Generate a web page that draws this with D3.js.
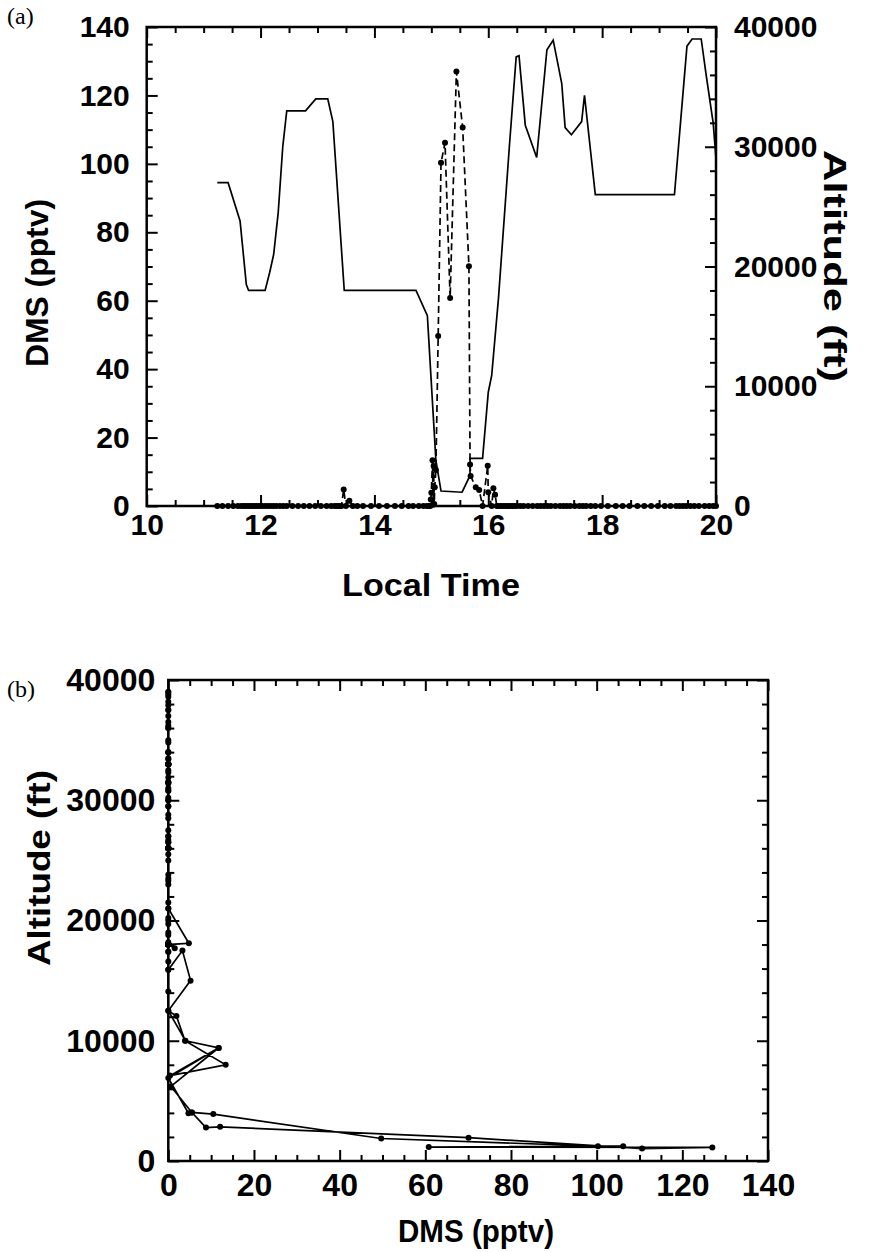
<!DOCTYPE html>
<html>
<head>
<meta charset="utf-8">
<script src="https://cdn.jsdelivr.net/npm/d3@7"></script>
<style>
  body { margin: 0; background: #fff; }
  svg { display: block; }
  .tick text { font-family: "Liberation Sans", Arial, sans-serif; font-weight: bold; fill: #000; }
  .pa .tick text { font-size: 30px; }
  .pb .tick text { font-size: 32px; }
  .tick line { stroke: #000; stroke-width: 2; }
  .title { font-family: "Liberation Sans", Arial, sans-serif; font-weight: bold; font-size: 31px; fill: #000; }
  .plabel { font-family: "Liberation Serif", "Times New Roman", serif; font-size: 24px; fill: #000; }
</style>
</head>
<body>
<div id="chart"></div>
<script>
// altitude track (local time in h, altitude in ft)
var altTime = [11.24, 11.43, 11.64, 11.75, 11.79, 12.08, 12.16, 12.23, 12.31, 12.39, 12.46, 12.79, 12.97, 13.18, 13.27, 13.47,
  14.73, 14.93, 15.08, 15.17, 15.54, 15.68, 15.68, 15.90, 16.00, 16.06, 16.18, 16.37, 16.49, 16.54, 16.65, 16.85,
  17.03, 17.14, 17.29, 17.35, 17.46, 17.64, 17.69, 17.88, 19.27, 19.49, 19.58, 19.74, 19.83, 19.95, 20.0]
var altFt = [27000, 27000, 23800, 18500, 18000, 18000, 19500, 21000, 24500, 30000, 33000, 33000, 34000, 34000, 32100, 18000,
  18000, 15900, 3800, 1250, 1150, 2550, 3975, 3975, 9500, 10900, 17400, 30000, 37500, 37600, 31800, 29100,
  38100, 38900, 35300, 31600, 31000, 32100, 34300, 26000, 26000, 38400, 39000, 39000, 35900, 32000, 29000]

// DMS samples: time (h), mixing ratio (pptv), altitude of the sample (ft)
var dmsTime = [11.24, 11.33, 11.43, 11.52, 11.60, 11.66, 11.70, 11.74, 11.78, 11.82, 11.86, 11.90, 11.94, 11.98, 12.03,
  12.08, 12.13, 12.18, 12.23, 12.28, 12.34, 12.40, 12.46, 12.56, 12.66, 12.76, 12.86, 12.96, 13.06, 13.16, 13.24,
  13.30, 13.34, 13.38, 13.42, 13.46, 13.50, 13.56, 13.62, 13.70, 13.80, 13.94, 14.08, 14.22, 14.36, 14.48, 14.60,
  14.68, 14.78, 14.86, 14.92, 14.96, 14.98, 14.99, 15.00, 15.02, 15.03, 15.04, 15.05, 15.06, 15.08, 15.12, 15.17,
  15.24, 15.33, 15.44, 15.55, 15.66, 15.68, 15.69, 15.78, 15.84, 15.90, 15.99, 16.00, 16.06, 16.09, 16.12, 16.15,
  16.18, 16.22, 16.26, 16.30, 16.34, 16.38, 16.42, 16.46, 16.50, 16.56, 16.62, 16.70, 16.78, 16.86, 16.92, 16.98,
  17.04, 17.10, 17.18, 17.26, 17.32, 17.38, 17.44, 17.52, 17.60, 17.66, 17.72, 17.80, 17.88, 17.98, 18.10, 18.24,
  18.36, 18.48, 18.62, 18.74, 18.86, 18.98, 19.10, 19.20, 19.30, 19.36, 19.42, 19.48, 19.55, 19.62, 19.70, 19.80,
  19.88, 19.95, 20.0]
var dmsPptv = [0, 0, 0, 0, 0, 0, 0, 0, 0, 0, 0, 0, 0, 0, 0,
  0, 0, 0, 0, 0, 0, 0, 0, 0, 0, 0, 0, 0, 0, 0, 0,
  0, 0, 0, 0, 4.8, 0, 1.5, 0, 0, 0, 0, 0, 0, 0, 0, 0,
  0, 0, 0, 0, 0, 0, 1.9, 3.9, 13.4, 0.4, 11.7, 0.6, 5.5, 10.5, 49.7, 100.3,
  106.2, 60.8, 127.0, 110.6, 70.1, 12.1, 8.8, 5.5, 4.7, 0, 11.8, 4.0, 0, 5.2, 3.3, 0,
  0, 0, 0, 0, 0, 0, 0, 0, 0, 0, 0, 0, 0, 0, 0, 0,
  0, 0, 0, 0, 0, 0, 0, 0, 0, 0, 0, 0, 0, 0, 0, 0,
  0, 0, 0, 0, 0, 0, 0, 0, 0, 0, 0, 0, 0, 0, 0, 0,
  0, 0, 0]
var dmsAlt = [27000, 27000, 26500, 25000, 23300, 21500, 20200, 19000, 18200, 18000, 18000, 18000, 18000, 18000, 18000,
  18000, 18800, 19700, 21000, 23000, 25500, 30200, 33000, 33000, 33000, 33000, 33400, 34000, 34000, 34000, 33000,
  29500, 26700, 23800, 21000, 18100, 18000, 17700, 18000, 18000, 18000, 18000, 18000, 18000, 18000, 18000, 18000,
  18000, 17400, 16600, 15900, 14100, 12500, 12050, 10000, 8000, 7100, 9400, 6200, 4040, 3900, 1870, 1230,
  1230, 1160, 1130, 1030, 1940, 2840, 2780, 4040, 3970, 6900, 9400, 10000, 12500, 15000, 17500, 15900,
  17400, 20000, 23500, 26500, 28500, 30800, 33500, 36000, 37500, 36500, 33000, 30800, 30000, 29500, 32500, 36000,
  38200, 38600, 37900, 36200, 33000, 31400, 31000, 31500, 31900, 33000, 31500, 28800, 26000, 26000, 26000, 26000,
  26000, 26000, 26000, 26000, 26000, 26000, 26000, 26000, 27500, 31500, 35000, 37500, 38800, 39000, 39000, 37000,
  34800, 32300, 30000]

// tick values
var timeMajor = [10, 12, 14, 16, 18, 20]
var timeMinor = [10.5, 11, 11.5, 12.5, 13, 13.5, 14.5, 15, 15.5, 16.5, 17, 17.5, 18.5, 19, 19.5]
var dmsMajor = [0, 20, 40, 60, 80, 100, 120, 140]
var dmsMinor = [5, 10, 15, 25, 30, 35, 45, 50, 55, 65, 70, 75, 85, 90, 95, 105, 110, 115, 125, 130, 135]
var altMajor = [0, 10000, 20000, 30000, 40000]
var altMinor = [2000, 4000, 6000, 8000, 12000, 14000, 16000, 18000, 22000, 24000, 26000, 28000, 32000, 34000, 36000, 38000]

var samples = dmsTime.map(function(t, i){ return {t: t, dms: dmsPptv[i], alt: dmsAlt[i]} })
var track = altTime.map(function(t, i){ return {t: t, alt: altFt[i]} })

var fmt = d3.format('d')
var svg = d3.select('#chart').append('svg').attr('width', 874).attr('height', 1252)

// draws inward ticks on one side of a frame
function side(g, axisFn, scale, major, minor, labels, pad){
  var a = axisFn(scale).tickValues(major).tickSize(-11).tickPadding(pad || 10).tickFormat(labels ? fmt : '')
  g.append('g').call(a).call(function(s){ s.select('.domain').remove() })
  g.append('g').call(axisFn(scale).tickValues(minor).tickSize(-6).tickFormat(''))
    .call(function(s){ s.select('.domain').remove() })
}

function title(g, txt, x, y, rot, len){
  g.append('text').attr('class', 'title').attr('text-anchor', 'middle')
    .attr('transform', 'translate(' + x + ',' + y + ') rotate(' + rot + ')')
    .attr('textLength', len).attr('lengthAdjust', 'spacingAndGlyphs').text(txt)
}

// ---------- panel (a)
var ax = d3.scaleLinear().domain([10, 20]).range([146.7, 716])
var ayD = d3.scaleLinear().domain([0, 140]).range([506, 27])
var ayA = d3.scaleLinear().domain([0, 40000]).range([506, 27])

var ga = svg.append('g').attr('class', 'pa')
side(ga.append('g').attr('transform', 'translate(0,506)'), d3.axisBottom, ax, timeMajor, timeMinor, true, 8)
side(ga.append('g').attr('transform', 'translate(0,27)'), d3.axisTop, ax, timeMajor, timeMinor, false)
side(ga.append('g').attr('transform', 'translate(146.7,0)'), d3.axisLeft, ayD, dmsMajor, dmsMinor, true, 17)
side(ga.append('g').attr('transform', 'translate(716,0)'), d3.axisRight, ayA, altMajor, altMinor, true, 18)
ga.append('rect').attr('x', 146.7).attr('y', 27).attr('width', 716 - 146.7).attr('height', 506 - 27)
  .attr('fill', 'none').attr('stroke', '#000').attr('stroke-width', 2.5)

var altLine = d3.line().x(function(d){ return ax(d.t) }).y(function(d){ return ayA(d.alt) })
ga.append('path').attr('d', altLine(track)).attr('fill', 'none').attr('stroke', '#000').attr('stroke-width', 1.7)

var dmsLine = d3.line().x(function(d){ return ax(d.t) }).y(function(d){ return ayD(d.dms) })
ga.append('path').attr('d', dmsLine(samples)).attr('fill', 'none').attr('stroke', '#000')
  .attr('stroke-width', 1.7).attr('stroke-dasharray', '7,4')
ga.selectAll('circle.a').data(samples).enter().append('circle').attr('class', 'a')
  .attr('cx', function(d){ return ax(d.t) }).attr('cy', function(d){ return ayD(d.dms) }).attr('r', 3)

ga.append('text').attr('class', 'plabel').attr('x', 7).attr('y', 24).text('(a)')
title(ga, 'Local Time', 431, 596, 0, 178)
title(ga, 'DMS (pptv)', 48, 283, -90, 168)
title(ga, 'Altitude (ft)', 824, 266, 90, 232)

// ---------- panel (b)
var bx = d3.scaleLinear().domain([0, 140]).range([168.3, 768])
var by = d3.scaleLinear().domain([0, 40000]).range([1161, 680])

var gb = svg.append('g').attr('class', 'pb')
side(gb.append('g').attr('transform', 'translate(0,1161)'), d3.axisBottom, bx, dmsMajor, dmsMinor, true, 12)
side(gb.append('g').attr('transform', 'translate(0,680)'), d3.axisTop, bx, dmsMajor, dmsMinor, false)
side(gb.append('g').attr('transform', 'translate(168.3,0)'), d3.axisLeft, by, altMajor, altMinor, true, 13)
side(gb.append('g').attr('transform', 'translate(768,0)'), d3.axisRight, by, altMajor, altMinor, false)
gb.append('rect').attr('x', 168.3).attr('y', 680).attr('width', 768 - 168.3).attr('height', 1161 - 680)
  .attr('fill', 'none').attr('stroke', '#000').attr('stroke-width', 2.5)

var profLine = d3.line().x(function(d){ return bx(d.dms) }).y(function(d){ return by(d.alt) })
gb.append('path').attr('d', profLine(samples)).attr('fill', 'none').attr('stroke', '#000').attr('stroke-width', 1.7)
gb.selectAll('circle.b').data(samples).enter().append('circle').attr('class', 'b')
  .attr('cx', function(d){ return bx(d.dms) }).attr('cy', function(d){ return by(d.alt) }).attr('r', 3)

gb.append('text').attr('class', 'plabel').attr('x', 7).attr('y', 697).text('(b)')
title(gb, 'DMS (pptv)', 476, 1242, 0, 156)
title(gb, 'Altitude (ft)', 50, 868, -90, 196)
</script>
</body>
</html>
